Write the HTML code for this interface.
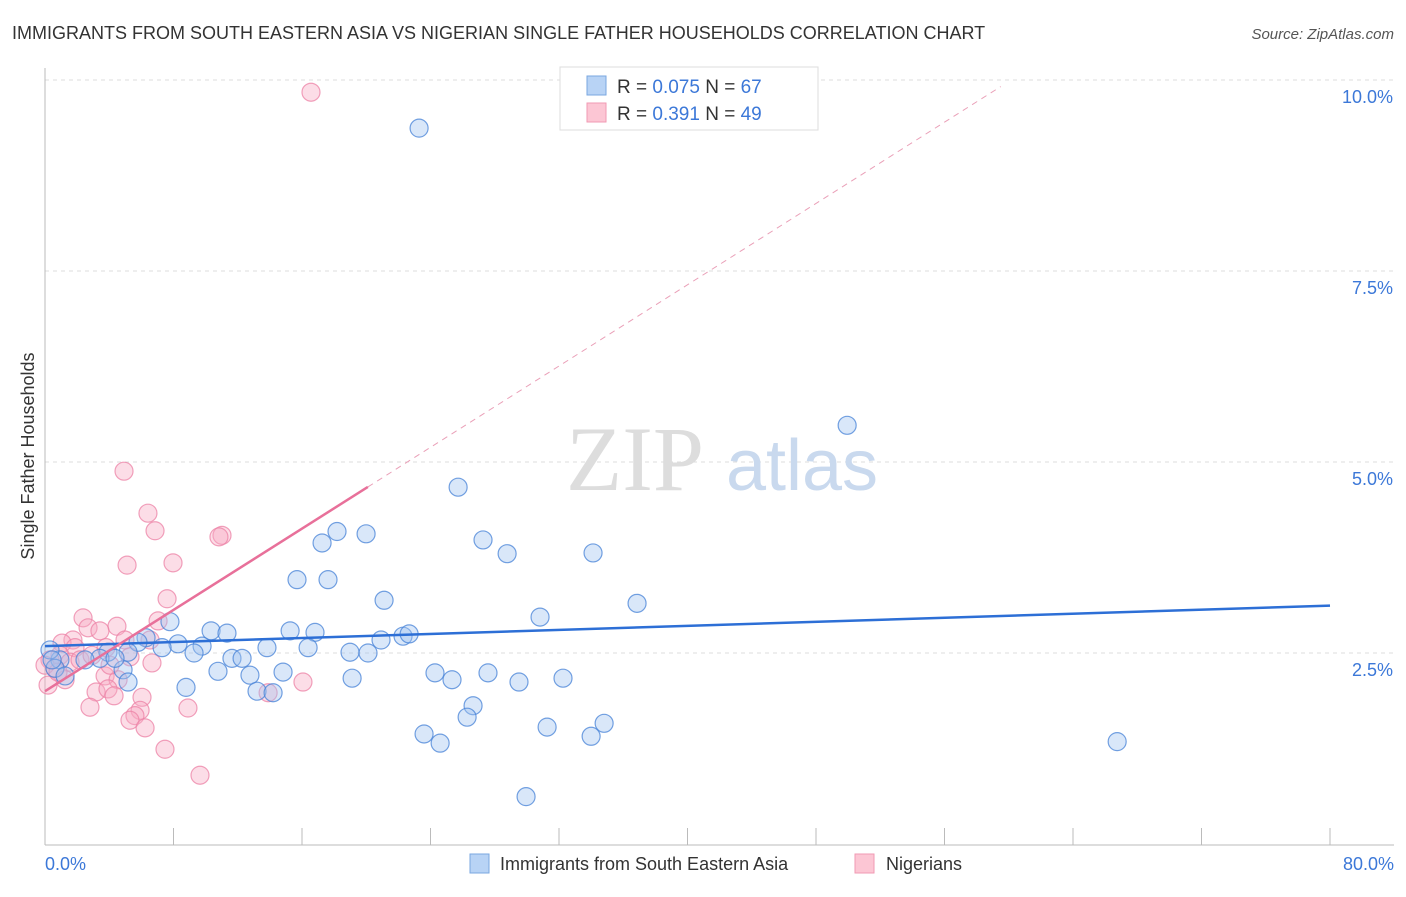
<!DOCTYPE html>
<html><head><meta charset="utf-8"><style>
body{margin:0;background:#fff;font-family:"Liberation Sans",sans-serif}
</style></head><body>
<svg width="1406" height="892" viewBox="0 0 1406 892" xmlns="http://www.w3.org/2000/svg">
<text x="12" y="39" font-size="18" fill="#333">IMMIGRANTS FROM SOUTH EASTERN ASIA VS NIGERIAN SINGLE FATHER HOUSEHOLDS CORRELATION CHART</text>
<text x="1394" y="39" font-size="15" fill="#555" font-style="italic" text-anchor="end">Source: ZipAtlas.com</text>
<g id="grid"></g>
<g><text x="635" y="490" font-size="92" fill="#ddd" font-family="Liberation Serif" text-anchor="middle">ZIP</text><text x="802" y="490" font-size="72" fill="#c9d9ee" text-anchor="middle">atlas</text></g>
<g id="yticks"></g>
<g id="xaxis"></g>
<text transform="translate(34,456) rotate(-90)" font-size="18" fill="#333" text-anchor="middle">Single Father Households</text>
<g id="pink"></g>
<g id="blue"></g>
<g id="trends"></g>
<g>
<rect x="560" y="67" width="258" height="63" fill="#fff" stroke="#ddd"/>
<rect x="587" y="76" width="19" height="19" fill="#b8d3f5" stroke="#7aa7e0"/>
<rect x="587" y="103" width="19" height="19" fill="#fcc6d4" stroke="#f19ab3"/>
<text x="617" y="93" font-size="19" fill="#333">R = <tspan fill="#3c78d8">0.075</tspan>   N = <tspan fill="#3c78d8">67</tspan></text>
<text x="617" y="120" font-size="19" fill="#333">R =  <tspan fill="#3c78d8">0.391</tspan>   N = <tspan fill="#3c78d8">49</tspan></text>
</g>
<g>
<rect x="470" y="854" width="19" height="19" fill="#b8d3f5" stroke="#7aa7e0"/>
<text x="500" y="870" font-size="18" fill="#333">Immigrants from South Eastern Asia</text>
<rect x="855" y="854" width="19" height="19" fill="#fcc6d4" stroke="#f19ab3"/>
<text x="886" y="870" font-size="18" fill="#333">Nigerians</text>
</g>
</svg>
<script>
const yTickVals=[2.5,5,7.5,10];
const yTickLabels=["2.5%","5.0%","7.5%","10.0%"];
const xTickVals=[0,8,16,24,32,40,48,56,64,72,80];
const blueX=[23.29,49.94,25.72,18.18,19.99,17.25,27.27,28.77,34.12,15.69,17.62,21.11,36.86,30.82,7.78,10.34,11.33,15.26,16.81,6.29,5.79,8.28,9.78,7.29,13.82,16.38,18.99,20.11,20.92,22.29,22.67,9.28,11.64,12.27,3.92,5.17,3.42,2.49,0.93,0.31,0.62,1.25,4.86,10.77,12.76,14.82,24.28,25.34,27.58,29.51,32.25,19.12,5.17,8.78,13.20,14.20,26.65,26.28,31.26,34.81,23.60,24.60,34.00,66.75,29.95,4.36,0.44];
const blueY=[9.37,5.48,4.67,4.09,4.06,3.94,3.98,3.80,3.81,3.46,3.46,3.19,3.15,2.97,2.91,2.79,2.76,2.79,2.77,2.70,2.64,2.62,2.59,2.57,2.57,2.57,2.51,2.50,2.67,2.72,2.75,2.50,2.43,2.43,2.51,2.51,2.43,2.41,2.41,2.54,2.30,2.20,2.28,2.26,2.21,2.25,2.24,2.15,2.24,2.12,2.17,2.17,2.12,2.05,2.00,1.98,1.81,1.66,1.53,1.58,1.44,1.32,1.41,1.34,0.62,2.43,2.41];
const pinkX=[16.56,4.92,6.41,6.85,11.02,10.83,5.11,7.97,7.60,7.04,2.37,2.68,4.48,3.42,1.74,1.06,4.98,1.87,3.80,5.29,6.66,0.93,0.62,0.31,0,1.56,3.74,4.55,3.18,3.92,4.30,6.04,2.80,8.90,5.92,5.60,5.29,6.23,7.47,9.65,16.06,13.89,1.25,0.19,0.81,2.18,2.93,4.05,6.54];
const pinkY=[9.84,4.88,4.33,4.10,4.04,4.02,3.65,3.68,3.21,2.92,2.96,2.83,2.85,2.79,2.67,2.63,2.67,2.57,2.57,2.45,2.37,2.47,2.30,2.41,2.34,2.38,2.20,2.15,1.99,2.03,1.94,1.92,1.79,1.78,1.75,1.68,1.62,1.52,1.24,0.90,2.12,1.98,2.15,2.08,2.25,2.41,2.47,2.34,2.67];
const blueTrend=[2.59,3.12];
const pinkTrend=[2.00,0.133];
const NS="http://www.w3.org/2000/svg";
const X=v=>45+v*(1330-45)/80;
const Y=v=>844-v*76.4;
function mk(t,a,p){const e=document.createElementNS(NS,t);for(const k in a)e.setAttribute(k,a[k]);p.appendChild(e);return e;}
const grid=document.getElementById('grid'),yt=document.getElementById('yticks'),xa=document.getElementById('xaxis');
yTickVals.forEach((v,i)=>{
 const l=mk('line',{x1:45,x2:1394,y1:Y(v),y2:Y(v),stroke:'#ddd','stroke-dasharray':'4,4'},grid);
 
 
 const t=mk('text',{x:1393,y:Y(v)+23,'font-size':18,fill:'#3c78d8','text-anchor':'end'},yt);
 t.textContent=yTickLabels[i];
 
 
});
mk('line',{x1:45,x2:45,y1:68,y2:845,stroke:'#bbb'},xa);
mk('line',{x1:45,x2:1394,y1:845,y2:845,stroke:'#bbb'},xa);
xTickVals.forEach(v=>{const l=mk('line',{x1:X(v),x2:X(v),y1:828,y2:845,stroke:'#bbb'},xa);
 
 });
let t=mk('text',{x:45,y:870,'font-size':18,fill:'#3c78d8'},xa);t.textContent='0.0%';

t=mk('text',{x:1394,y:870,'font-size':18,fill:'#3c78d8','text-anchor':'end'},xa);t.textContent='80.0%';

const pg=document.getElementById('pink'),bg=document.getElementById('blue');
pinkX.forEach((x,i)=>{const c=mk('circle',{cx:X(x),cy:Y(pinkY[i]),r:9,fill:'rgba(248,170,195,0.4)',stroke:'rgba(236,130,165,0.75)','stroke-width':1.2},pg);
 
 });
blueX.forEach((x,i)=>{const c=mk('circle',{cx:X(x),cy:Y(blueY[i]),r:9,fill:'rgba(160,196,240,0.4)',stroke:'rgba(70,130,215,0.75)','stroke-width':1.2},bg);
 
 });
const tg=document.getElementById('trends');
let l=mk('line',{x1:X(0),y1:Y(blueTrend[0]),x2:X(80),y2:Y(blueTrend[1]),stroke:'#2d6fd6','stroke-width':2.5},tg);

const pEnd=20.1,dEnd=59.5;
l=mk('line',{x1:X(0),y1:Y(pinkTrend[0]),x2:X(pEnd),y2:Y(pinkTrend[0]+pinkTrend[1]*pEnd),stroke:'#e8709a','stroke-width':2.5},tg);

l=mk('line',{x1:X(pEnd),y1:Y(pinkTrend[0]+pinkTrend[1]*pEnd),x2:X(dEnd),y2:Y(pinkTrend[0]+pinkTrend[1]*dEnd),stroke:'#eaa0b8','stroke-width':1,'stroke-dasharray':'6,5'},tg);

</script>
</body></html>
